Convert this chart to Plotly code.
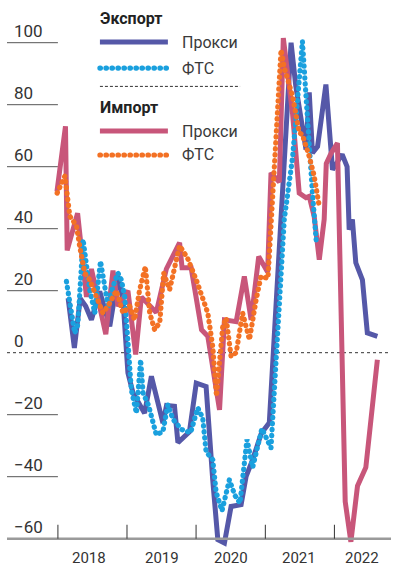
import plotly.graph_objects as go

# ---------------- data ----------------
exp_proxy_dates = ["2018-02-24", "2018-03-29", "2018-04-29", "2018-05-28", "2018-06-27", "2018-08-10",
                   "2018-10-02", "2018-11-14", "2018-12-11", "2019-01-06", "2019-02-02", "2019-03-09",
                   "2019-04-04", "2019-05-10", "2019-07-10", "2019-07-29", "2019-09-09", "2019-09-27",
                   "2019-11-27", "2020-01-02", "2020-02-23", "2020-03-29", "2020-04-25", "2020-05-30",
                   "2020-07-04", "2020-08-26", "2020-09-21", "2020-10-26", "2020-12-11", "2021-01-22",
                   "2021-05-17", "2021-06-11", "2021-07-16", "2021-08-04", "2021-08-21", "2021-09-07",
                   "2021-10-04", "2021-11-17", "2021-12-22", "2022-01-09", "2022-02-11", "2022-03-09",
                   "2022-03-20", "2022-04-06", "2022-04-24", "2022-05-29", "2022-06-24", "2022-08-16"]
exp_proxy_vals = [17.6, 1.5, 17.5, 15, 10.6, 19.8, 8.5, 24.6, 17, -6.5, -13, -17, -19.5, -7.6, -22.7,
                  -17, -17.3, -29, -25.5, -9.8, -10.9, -41, -60.3, -61.4, -49.6, -49, -40, -34.5, -26,
                  -22.6, 100, 86, 72, 65.5, 84, 64.4, 66.5, 86.5, 59, 61, 64, 60, 39.7, 43, 29, 23.5,
                  6.4, 5.3]

exp_fts_dates = ["2018-02-15", "2018-03-31", "2018-04-16", "2018-05-14", "2018-06-18", "2018-07-15",
                 "2018-08-14", "2018-09-05", "2018-09-23", "2018-10-19", "2018-11-14", "2018-12-02",
                 "2018-12-20", "2019-01-24", "2019-02-20", "2019-03-14", "2019-03-27", "2019-04-25",
                 "2019-06-05", "2019-07-10", "2019-08-05", "2019-09-01", "2019-10-17", "2019-12-03",
                 "2020-01-10", "2020-02-05", "2020-02-23", "2020-03-29", "2020-04-16", "2020-05-17",
                 "2020-06-25", "2020-07-24", "2020-08-20", "2020-09-26", "2020-10-26", "2020-12-14",
                 "2021-01-31", "2021-04-11", "2021-05-25", "2021-06-29", "2021-07-16", "2021-08-04",
                 "2021-08-21", "2021-09-07", "2021-09-27"]
exp_fts_vals = [23, 6.3, 9, 36.5, 20.3, 12.8, 29.5, 20.3, 15, 21.4, 25.7, 23.5, 18, -12, -19.5, -2.3,
                -13, -17, -26.5, -25.4, -16.8, -21.5, -24.8, -25.8, -17.8, -21, -32, -34.5, -45, -51,
                -41, -46, -48.5, -28, -37, -24.5, -30.7, 43, 63, 88, 100.4, 82.7, 64.4, 51.5, 36]

imp_proxy_dates = ["2017-12-27", "2018-02-10", "2018-02-19", "2018-04-15", "2018-06-01", "2018-06-27",
                   "2018-09-11", "2018-10-19", "2018-11-14", "2019-01-06", "2019-02-16", "2019-03-18",
                   "2019-06-05", "2019-07-28", "2019-10-06", "2019-10-19", "2019-12-06", "2020-01-30",
                   "2020-03-03", "2020-05-04", "2020-05-30", "2020-07-31", "2020-09-12", "2020-10-18",
                   "2020-11-27", "2021-01-13", "2021-01-31", "2021-03-16", "2021-04-06", "2021-05-25",
                   "2021-06-29", "2021-08-04", "2021-08-21", "2021-09-16", "2021-10-13", "2021-11-08",
                   "2021-11-19", "2021-12-15", "2022-01-17", "2022-02-27", "2022-03-29", "2022-05-03",
                   "2022-06-16", "2022-08-16"]
imp_proxy_vals = [52, 73, 33, 45, 18, 27, 6, 26.5, 15, 20, -0.6, 18, 13, 27, 35.5, 27.4, 27.4, 7.4, 5.3,
                  -18.4, 10.6, 10, 24.6, 10.6, 31, 26, 58, 55, 101.5, 77, 51.5, 50, 50.4, 44, 30, 43,
                  61, 64.4, 67.6, -48, -61, -43, -37, -2.3]

imp_fts_dates = ["2017-12-28", "2018-02-07", "2018-03-05", "2018-04-09", "2018-04-27", "2018-05-23",
                 "2018-06-18", "2018-07-24", "2018-08-27", "2018-10-02", "2018-11-06", "2018-12-11",
                 "2019-01-15", "2019-02-10", "2019-03-09", "2019-04-08", "2019-05-01", "2019-05-27",
                 "2019-06-23", "2019-07-14", "2019-08-14", "2019-10-06", "2019-11-17", "2020-01-02",
                 "2020-03-03", "2020-03-29", "2020-04-18", "2020-05-21", "2020-06-08", "2020-07-04",
                 "2020-07-31", "2020-09-03", "2020-10-09", "2020-11-13", "2020-12-09", "2021-01-15",
                 "2021-03-25", "2021-04-11", "2021-05-25", "2021-06-29", "2021-07-16", "2021-08-21",
                 "2021-09-16", "2021-10-13"]
imp_fts_vals = [51.5, 57, 44, 41, 34, 25.7, 23.5, 18, 12.8, 16, 20, 12.8, 15, 10.6, 20.3, 27.8, 12.8,
                7.4, 9.7, 25.7, 20.3, 34.5, 30.5, 23.5, 12.8, 2, -14, 8.5, 11.2, -1.2, 0, 12.8, 4.2,
                17, 24.6, 24, 97.7, 92, 82.7, 71, 70.3, 63.3, 57, 47.2]

y_ticks = [-60, -40, -20, 0, 20, 40, 60, 80, 100]
year_starts = ["2018-01-01", "2019-01-01", "2020-01-01", "2021-01-01", "2022-01-01"]
year_labels = ["2018", "2019", "2020", "2021", "2022"]
year_label_pos = ["2018-06-12", "2019-07-04", "2020-07-06", "2021-06-29", "2022-05-27"]

legend_groups = ["Экспорт", "Импорт"]
legend_items = ["Прокси", "ФТС"]

# ---------------- style ----------------
C_EXP_PROXY = "#5558A8"
C_EXP_FTS = "#1AA0DE"
C_IMP_PROXY = "#C8567A"
C_IMP_FTS = "#F37124"
DOT = "0.5px,5.5px"
DOT_W = 5.2
FONT = "Roboto, 'Liberation Sans', Arial, sans-serif"
TXT = "#333333"

X_RANGE = ["2017-04-07", "2022-10-27"]
Y_RANGE = [-63, 110.55]

fig = go.Figure()
fig.add_trace(go.Scatter(x=exp_proxy_dates, y=exp_proxy_vals, mode="lines",
                         line=dict(color=C_EXP_PROXY, width=5), hoverinfo="skip"))
fig.add_trace(go.Scatter(x=imp_proxy_dates, y=imp_proxy_vals, mode="lines",
                         line=dict(color=C_IMP_PROXY, width=5), hoverinfo="skip"))
fig.add_trace(go.Scatter(x=exp_fts_dates, y=exp_fts_vals, mode="lines",
                         line=dict(color=C_EXP_FTS, width=DOT_W, dash=DOT), hoverinfo="skip"))
fig.add_trace(go.Scatter(x=imp_fts_dates, y=imp_fts_vals, mode="lines",
                         line=dict(color=C_IMP_FTS, width=DOT_W, dash=DOT), hoverinfo="skip"))

shapes = []
# short gridlines on the left
for v in y_ticks:
    if v in (0, -60):
        continue
    shapes.append(dict(type="line", xref="x", yref="y", x0=X_RANGE[0], x1=year_starts[0],
                       y0=v, y1=v, line=dict(color="#555555", width=1), layer="below"))
# dashed zero line
shapes.append(dict(type="line", xref="paper", yref="y", x0=0, x1=1, y0=0, y1=0,
                   line=dict(color="#333333", width=1, dash="3px,3px"), layer="below"))
# x axis baseline
shapes.append(dict(type="line", xref="paper", yref="y", x0=0, x1=1, y0=-60, y1=-60,
                   line=dict(color="#9a9a9a", width=2.5), layer="above"))
# year ticks
for d in year_starts:
    shapes.append(dict(type="line", xref="x", yref="y", x0=d, x1=d, y0=-60, y1=-55.5,
                       line=dict(color="#333333", width=1), layer="above"))

annotations = []
for lab, pos in zip(year_labels, year_label_pos):
    annotations.append(dict(x=pos, y=-60, xref="x", yref="y", text=lab, showarrow=False,
                            xanchor="center", yanchor="middle", yshift=-19,
                            font=dict(family=FONT, size=15, color=TXT)))

# ---------------- custom legend (paper coords) ----------------
LX0, LX1, LTX = 0.242, 0.419, 0.4505
leg = [
    (0.985, None),
    (0.9405, (C_EXP_PROXY, 5, None)),
    (0.892, (C_EXP_FTS, DOT_W, DOT)),
    (0.819, None),
    (0.775, (C_IMP_PROXY, 5, None)),
    (0.7305, (C_IMP_FTS, DOT_W, DOT)),
]
titles = iter(legend_groups)
for yy, spec in leg:
    if spec is None:
        annotations.append(dict(x=LX0, y=yy, xref="paper", yref="paper", text="<b>%s</b>" % next(titles),
                                showarrow=False, xanchor="left", yanchor="middle", xshift=-2,
                                font=dict(family=FONT, size=16, color="#222222")))
    else:
        col, w, dash = spec
        ln = dict(color=col, width=w)
        if dash:
            ln["dash"] = dash
        shapes.append(dict(type="line", xref="paper", yref="paper", x0=LX0, x1=LX1, y0=yy, y1=yy, line=ln))
        annotations.append(dict(x=LTX, y=yy, xref="paper", yref="paper",
                                text=legend_items[0] if dash is None else legend_items[1],
                                showarrow=False, xanchor="left", yanchor="middle",
                                font=dict(family=FONT, size=16, color="#3a3a3a")))
# dashed separator in legend
shapes.append(dict(type="line", xref="paper", yref="paper", x0=LX0, x1=0.607, y0=0.858, y1=0.858,
                   line=dict(color="#333333", width=1, dash="3px,2px")))

fig.update_layout(
    width=417, height=571,
    margin=dict(l=7, r=26, t=10, b=23),
    paper_bgcolor="white", plot_bgcolor="white",
    showlegend=False,
    xaxis=dict(type="date", range=X_RANGE, showgrid=False, zeroline=False,
               showticklabels=False, ticks="", showline=False),
    yaxis=dict(range=Y_RANGE, tickmode="array", tickvals=y_ticks, ticklabelposition="inside top",
               ticklabelstandoff=4,
               showgrid=False, zeroline=False, ticks="", showline=False,
               tickfont=dict(family=FONT, size=17, color=TXT)),
    shapes=shapes, annotations=annotations,
)

post = """
(function(){
  document.body.style.margin = '0';
  document.body.style.padding = '0';
  document.documentElement.style.margin = '0';
  function fix(){
    document.querySelectorAll('path').forEach(function(p){
      var d = p.style.strokeDasharray || '';
      if (d.indexOf('0.5') === 0) {
        p.style.strokeLinecap = 'round';
      }
    });
  }
  fix();
  var gd = document.getElementById('{plot_id}');
  if (gd && gd.on) { gd.on('plotly_afterplot', fix); }
  setTimeout(fix, 50);
})();
"""
fig.write_html("out.html", post_script=post, config={"displayModeBar": False, "staticPlot": True})
